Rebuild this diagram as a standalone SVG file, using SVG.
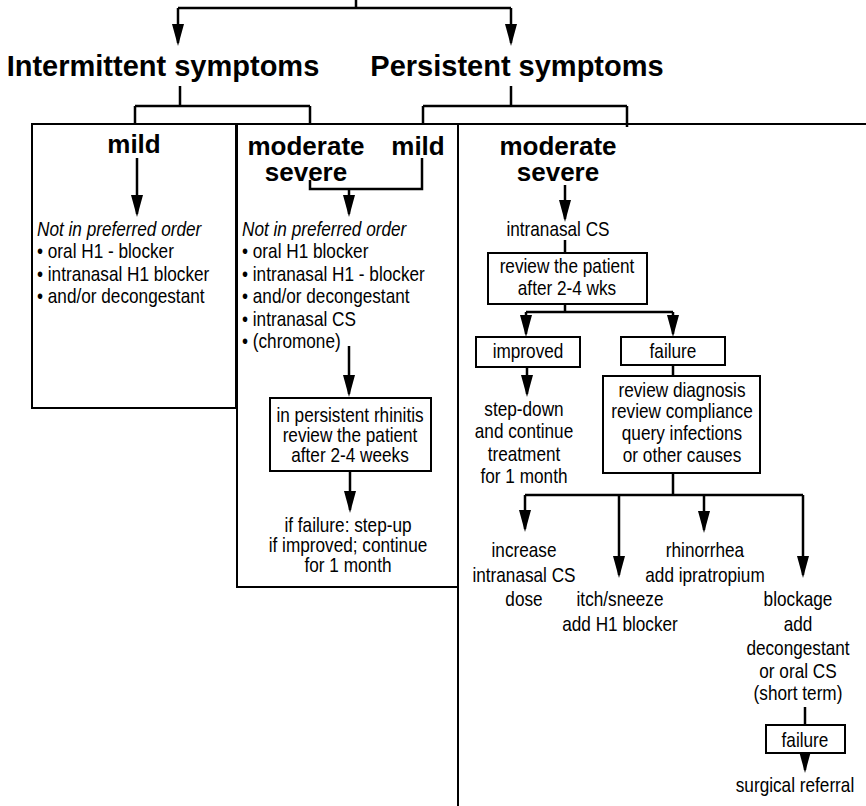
<svg xmlns="http://www.w3.org/2000/svg" width="866" height="806" viewBox="0 0 866 806">
<style>
.ln{fill:none;stroke:#000;stroke-width:2.5}
.bx{fill:#fff;stroke:#000;stroke-width:2}
.pn{fill:none;stroke:#000;stroke-width:2}
text{font-family:"Liberation Sans",Arial,Helvetica,sans-serif;fill:#000;font-size:20px}
.b{font-weight:bold;font-size:26px}
.h{font-weight:bold;font-size:29px}
.i{font-style:italic}
.c{text-anchor:middle}
</style>
<defs>
<marker id="ah" viewBox="0 0 22 12" refX="19" refY="6" markerWidth="22" markerHeight="12" markerUnits="userSpaceOnUse" orient="auto">
<path d="M0,0 L22,6 L0,12 z" fill="#000"/>
</marker>
</defs>
<rect width="866" height="806" fill="#fff"/>

<g id="panels">
<rect class="pn" x="32" y="124" width="204" height="284"/>
<rect class="pn" x="237" y="124" width="221" height="463"/>
<path class="pn" d="M458,806 V124 H866"/>
</g>

<g id="connectors">
<path class="ln" d="M356,0 V8 M178,8 H511"/>
<path class="ln" d="M178,8 V43" marker-end="url(#ah)"/>
<path class="ln" d="M511,8 V43" marker-end="url(#ah)"/>
<path class="ln" d="M180,86 V106 M135,106 H310 M135,106 V124 M310,106 V124"/>
<path class="ln" d="M511,86 V106 M423,106 H627 M423,106 V124 M627,106 V127"/>
<path class="ln" d="M137,158 V214" marker-end="url(#ah)"/>
<path class="ln" d="M422,158 V189 H310 V180"/>
<path class="ln" d="M349,189 V214" marker-end="url(#ah)"/>
<path class="ln" d="M349,346 V394" marker-end="url(#ah)"/>
<path class="ln" d="M350,471 V510" marker-end="url(#ah)"/>
<path class="ln" d="M565,185 V219" marker-end="url(#ah)"/>
<path class="ln" d="M565,240 V253"/>
<path class="ln" d="M565,304 V312 M526,312 H673"/>
<path class="ln" d="M526,312 V334" marker-end="url(#ah)"/>
<path class="ln" d="M673,312 V334" marker-end="url(#ah)"/>
<path class="ln" d="M527,367 V394" marker-end="url(#ah)"/>
<path class="ln" d="M673,365 V376"/>
<path class="ln" d="M673,473 V495 M525,495 H803"/>
<path class="ln" d="M525,495 V529" marker-end="url(#ah)"/>
<path class="ln" d="M619,495 V575" marker-end="url(#ah)"/>
<path class="ln" d="M704,495 V530" marker-end="url(#ah)"/>
<path class="ln" d="M803,495 V575" marker-end="url(#ah)"/>
<path class="ln" d="M805,707 V725"/>
<path class="ln" d="M805,753 V770" marker-end="url(#ah)"/>
</g>

<g id="intermittent"><text class="h c" x="163" y="76">Intermittent symptoms</text></g>
<g id="persistent"><text class="h c" x="517" y="76">Persistent symptoms</text></g>

<g id="int-mild">
<text class="b c" x="134" y="153">mild</text>
<g transform="translate(37 0) scale(.86 1)">
<text class="i" x="0" y="236">Not in preferred order</text>
<text x="0" y="258">• oral H1 - blocker</text>
<text x="0" y="281">• intranasal H1 blocker</text>
<text x="0" y="303">• and/or decongestant</text>
</g>
</g>

<g id="int-modsev">
<text class="b c" x="306" y="155">moderate</text>
<text class="b c" x="306" y="181">severe</text>
</g>
<g id="per-mild"><text class="b c" x="418" y="155">mild</text></g>

<g id="mid-list">
<g transform="translate(242 0) scale(.86 1)">
<text class="i" x="0" y="236">Not in preferred order</text>
<text x="0" y="258">• oral H1 blocker</text>
<text x="0" y="281">• intranasal H1 - blocker</text>
<text x="0" y="303">• and/or decongestant</text>
<text x="0" y="326">• intranasal CS</text>
<text x="0" y="348">• (chromone)</text>
</g>
</g>

<g id="mid-review">
<rect class="bx" x="270" y="398" width="161" height="73"/>
<g transform="translate(350 0) scale(.86 1)">
<text class="c" x="0" y="422">in persistent rhinitis</text>
<text class="c" x="0" y="442">review the patient</text>
<text class="c" x="0" y="462">after 2-4 weeks</text>
</g>
</g>

<g id="mid-outcome">
<g transform="translate(348 0) scale(.86 1)">
<text class="c" x="0" y="532">if failure: step-up</text>
<text class="c" x="0" y="552">if improved; continue</text>
<text class="c" x="0" y="572">for 1 month</text>
</g>
</g>

<g id="per-modsev">
<text class="b c" x="558" y="155">moderate</text>
<text class="b c" x="558" y="181">severe</text>
</g>

<g id="intranasal-cs">
<g transform="translate(558 0) scale(.86 1)"><text class="c" x="0" y="236">intranasal CS</text></g>
</g>

<g id="review-wks">
<rect class="bx" x="488" y="253" width="159" height="51"/>
<g transform="translate(567 0) scale(.86 1)">
<text class="c" x="0" y="273">review the patient</text>
<text class="c" x="0" y="295">after 2-4 wks</text>
</g>
</g>

<g id="improved">
<rect class="bx" x="476" y="337" width="104" height="30"/>
<g transform="translate(528 0) scale(.86 1)"><text class="c" x="0" y="358">improved</text></g>
</g>

<g id="failure">
<rect class="bx" x="621" y="337" width="104" height="28"/>
<g transform="translate(673 0) scale(.86 1)"><text class="c" x="0" y="358">failure</text></g>
</g>

<g id="step-down">
<g transform="translate(524 0) scale(.86 1)">
<text class="c" x="0" y="416">step-down</text>
<text class="c" x="0" y="438">and continue</text>
<text class="c" x="0" y="461">treatment</text>
<text class="c" x="0" y="483">for 1 month</text>
</g>
</g>

<g id="review-diagnosis">
<rect class="bx" x="603" y="376" width="157" height="97"/>
<g transform="translate(682 0) scale(.86 1)">
<text class="c" x="0" y="397">review diagnosis</text>
<text class="c" x="0" y="418">review compliance</text>
<text class="c" x="0" y="440">query infections</text>
<text class="c" x="0" y="462">or other causes</text>
</g>
</g>

<g id="increase">
<g transform="translate(524 0) scale(.86 1)">
<text class="c" x="0" y="557">increase</text>
<text class="c" x="0" y="582">intranasal CS</text>
<text class="c" x="0" y="606">dose</text>
</g>
</g>

<g id="itch">
<g transform="translate(620 0) scale(.86 1)">
<text class="c" x="0" y="606">itch/sneeze</text>
<text class="c" x="0" y="631">add H1 blocker</text>
</g>
</g>

<g id="rhinorrhea">
<g transform="translate(705 0) scale(.86 1)">
<text class="c" x="0" y="557">rhinorrhea</text>
<text class="c" x="0" y="582">add ipratropium</text>
</g>
</g>

<g id="blockage">
<g transform="translate(798 0) scale(.86 1)">
<text class="c" x="0" y="606">blockage</text>
<text class="c" x="0" y="631">add</text>
<text class="c" x="0" y="655">decongestant</text>
<text class="c" x="0" y="678">or oral CS</text>
<text class="c" x="0" y="700">(short term)</text>
</g>
</g>

<g id="failure2">
<rect class="bx" x="766" y="725" width="79" height="28"/>
<g transform="translate(805 0) scale(.86 1)"><text class="c" x="0" y="747">failure</text></g>
</g>

<g id="surgical">
<g transform="translate(795 0) scale(.86 1)"><text class="c" x="0" y="792">surgical referral</text></g>
</g>
</svg>
